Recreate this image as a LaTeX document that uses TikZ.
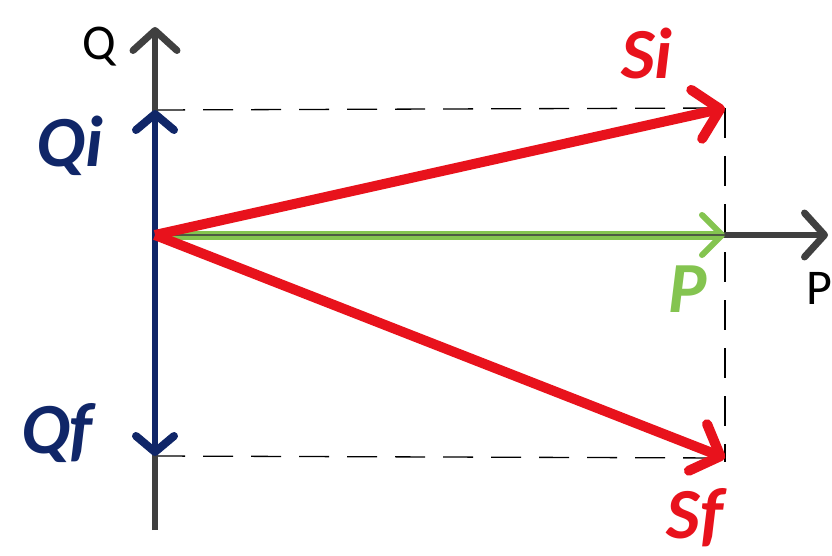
\documentclass[tikz,border=0pt]{standalone}
\usepackage{fontspec}
\setmainfont{Carlito}
\usetikzlibrary{arrows.meta}
\definecolor{vred}{RGB}{232,18,28}
\definecolor{vnavy}{RGB}{16,38,104}
\definecolor{vgreen}{RGB}{132,196,80}
\definecolor{vgray}{RGB}{64,64,64}
\tikzset{
  axis/.style={draw=vgray, line width=6pt, -{Straight Barb[length=20pt,width=44pt,line width=7pt 0,round]}},
  qvec/.style={draw=vnavy, line width=6pt, -{Straight Barb[length=16pt,width=38pt,line width=8pt 0,round]}},
  svec/.style={draw=vred, line width=10pt, -{Straight Barb[length=24pt,width=50pt,line width=10pt 0,round]}},
  pvec/.style={draw=vgreen, line width=9pt, -{Straight Barb[length=20pt,width=40pt,line width=6pt 0,round]}},
  guide/.style={draw=black, line width=1.3pt, dash pattern=on 30pt off 18pt},
  biglab/.style={font=\fontsize{72}{72}\selectfont\bfseries\itshape, inner sep=0pt, anchor=base},
  axlab/.style={font=\fontsize{50}{50}\selectfont, inner sep=0pt, anchor=base},
}
\begin{document}
\begin{tikzpicture}[x=1pt,y=-1pt]
\useasboundingbox (0,0) rectangle (832,556);
\coordinate (O) at (155,235);
\coordinate (Qtop) at (155,27);
\coordinate (Qbot) at (155,530);
\coordinate (Pend) at (828,235);
\coordinate (Qi) at (155,110);
\coordinate (Qf) at (155,456);
\coordinate (Si) at (725,108);
\coordinate (Sf) at (725,458);
\coordinate (Pv) at (725,235);
\coordinate (Dbot) at (725,462);
% guides
\draw[guide] (Qi) -- (Si);
\draw[guide] (Qf) -- (Sf);
\draw[guide] (Si) -- (Dbot);
% axes
\draw[axis] (Qbot) -- (Qtop);
\draw[axis] (O) -- (Pend);
% vectors
\draw[qvec] (O) -- (Qi);
\draw[qvec] (O) -- (Qf);
\draw[pvec] (O) -- (Pv);
\draw[draw=vgray, line width=1.8pt, opacity=0.8] (O) -- (Pv);
\draw[svec] (O) -- (Si);
\draw[svec] (O) -- (Sf);
% labels
\node[axlab] (lQ) at (99,60) {Q};
\node[axlab, anchor=base west] (lP) at (806,304) {P};
\node[biglab, text=vnavy] (lQi) at (70,167) {Qi};
\node[biglab, text=vnavy] (lQf) at (57,453) {Qf};
\node[biglab, text=vred] (lSi) at (647,79) {Si};
\node[biglab, text=vred] (lSf) at (695,538) {Sf};
\node[biglab, text=vgreen] (lPv) at (688,312) {P};
\end{tikzpicture}
\end{document}
